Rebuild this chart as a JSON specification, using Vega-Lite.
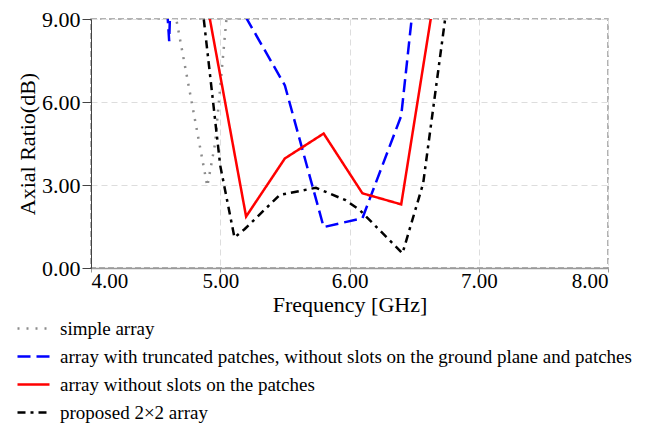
{
  "$schema": "https://vega.github.io/schema/vega-lite/v6.json",
  "width": 517,
  "height": 249,
  "autosize": {"type": "none"},
  "padding": {"left": 91, "top": 19, "right": 37, "bottom": 155},
  "background": "white",
  "config": {
    "font": "Liberation Serif",
    "view": {"stroke": "#999999", "strokeDash": [6, 3], "strokeWidth": 1.5}
  },
  "data": {
    "values": [
      {"series": "simple array", "freq": 4.6, "ar": 10.5},
      {"series": "simple array", "freq": 4.9, "ar": 2.95},
      {"series": "simple array", "freq": 4.96, "ar": 4.5},
      {"series": "simple array", "freq": 5.04, "ar": 8.6},
      {"series": "simple array", "freq": 5.1, "ar": 11.6},

      {"series": "array with truncated patches, without slots on the ground plane and patches", "freq": 4.58, "ar": 10.0},
      {"series": "array with truncated patches, without slots on the ground plane and patches", "freq": 4.605, "ar": 8.2},
      {"series": "array with truncated patches, without slots on the ground plane and patches", "freq": 4.62, "ar": 10.5},
      {"series": "array with truncated patches, without slots on the ground plane and patches", "freq": 5.0, "ar": 20},
      {"series": "array with truncated patches, without slots on the ground plane and patches", "freq": 5.2, "ar": 9.05},
      {"series": "array with truncated patches, without slots on the ground plane and patches", "freq": 5.5, "ar": 6.6},
      {"series": "array with truncated patches, without slots on the ground plane and patches", "freq": 5.8, "ar": 1.48},
      {"series": "array with truncated patches, without slots on the ground plane and patches", "freq": 6.1, "ar": 1.8},
      {"series": "array with truncated patches, without slots on the ground plane and patches", "freq": 6.4, "ar": 5.5},
      {"series": "array with truncated patches, without slots on the ground plane and patches", "freq": 6.7, "ar": 18.5},

      {"series": "array without slots on the patches", "freq": 4.9, "ar": 9.5},
      {"series": "array without slots on the patches", "freq": 5.2, "ar": 1.86},
      {"series": "array without slots on the patches", "freq": 5.5, "ar": 3.96},
      {"series": "array without slots on the patches", "freq": 5.8, "ar": 4.86},
      {"series": "array without slots on the patches", "freq": 6.1, "ar": 2.7},
      {"series": "array without slots on the patches", "freq": 6.4, "ar": 2.3},
      {"series": "array without slots on the patches", "freq": 6.7, "ar": 11.1},

      {"series": "proposed 2×2 array", "freq": 4.8, "ar": 12.0},
      {"series": "proposed 2×2 array", "freq": 5.0, "ar": 3.7},
      {"series": "proposed 2×2 array", "freq": 5.11, "ar": 1.1},
      {"series": "proposed 2×2 array", "freq": 5.19, "ar": 1.41},
      {"series": "proposed 2×2 array", "freq": 5.46, "ar": 2.64},
      {"series": "proposed 2×2 array", "freq": 5.74, "ar": 2.9},
      {"series": "proposed 2×2 array", "freq": 5.97, "ar": 2.45},
      {"series": "proposed 2×2 array", "freq": 6.08, "ar": 2.09},
      {"series": "proposed 2×2 array", "freq": 6.41, "ar": 0.53},
      {"series": "proposed 2×2 array", "freq": 6.57, "ar": 3.06},
      {"series": "proposed 2×2 array", "freq": 6.8, "ar": 11.1}
    ]
  },
  "mark": {"type": "line", "clip": true, "strokeWidth": 2.5},
  "encoding": {
    "x": {
      "field": "freq",
      "type": "quantitative",
      "scale": {"domain": [4, 8], "nice": false, "zero": false},
      "axis": {
        "values": [4, 5, 6, 7, 8],
        "format": ".2f",
        "title": "Frequency [GHz]",
        "titleFontSize": 22,
        "titleFontWeight": "normal",
        "titleColor": "black",
        "titlePadding": 3,
        "labelFontSize": 21,
        "labelColor": "black",
        "labelPadding": -2,
        "tickSize": 4,
        "tickColor": "#999999",
        "domainColor": "#999999",
        "domainWidth": 1.5,
        "grid": true,
        "gridColor": "#dddddd",
        "gridDash": [6, 4],
        "gridWidth": 1
      }
    },
    "y": {
      "field": "ar",
      "type": "quantitative",
      "scale": {"domain": [0, 9], "nice": false},
      "axis": {
        "values": [0, 3, 6, 9],
        "format": ".2f",
        "title": "Axial Ratio(dB)",
        "titleFontSize": 22,
        "titleFontWeight": "normal",
        "titleColor": "black",
        "titlePadding": 2,
        "labelFontSize": 22,
        "labelColor": "black",
        "labelPadding": 2,
        "tickSize": 9,
        "tickColor": "#444444",
        "domainColor": "#444444",
        "domainWidth": 1,
        "grid": true,
        "gridColor": "#dddddd",
        "gridDash": [6, 4],
        "gridWidth": 1
      }
    },
    "color": {
      "field": "series",
      "type": "nominal",
      "sort": null,
      "scale": {
        "domain": ["simple array", "array with truncated patches, without slots on the ground plane and patches", "array without slots on the patches", "proposed 2×2 array"],
        "range": ["#8c8c8c", "#0000ff", "#ff0000", "#000000"]
      },
      "legend": {
        "title": null,
        "orient": "none",
        "legendX": -75,
        "legendY": 292,
        "symbolType": "stroke",
        "symbolSize": 1024,
        "symbolStrokeWidth": 2.5,
        "labelFontSize": 19,
        "labelColor": "black",
        "labelOffset": 9,
        "rowPadding": -4,
        "labelLimit": 700
      }
    },
    "strokeDash": {
      "field": "series",
      "type": "nominal",
      "sort": null,
      "scale": {
        "domain": ["simple array", "array with truncated patches, without slots on the ground plane and patches", "array without slots on the patches", "proposed 2×2 array"],
        "range": [[2, 7], [13, 6], [1, 0], [8, 5, 3, 5]]
      },
      "legend": null
    }
  }
}
